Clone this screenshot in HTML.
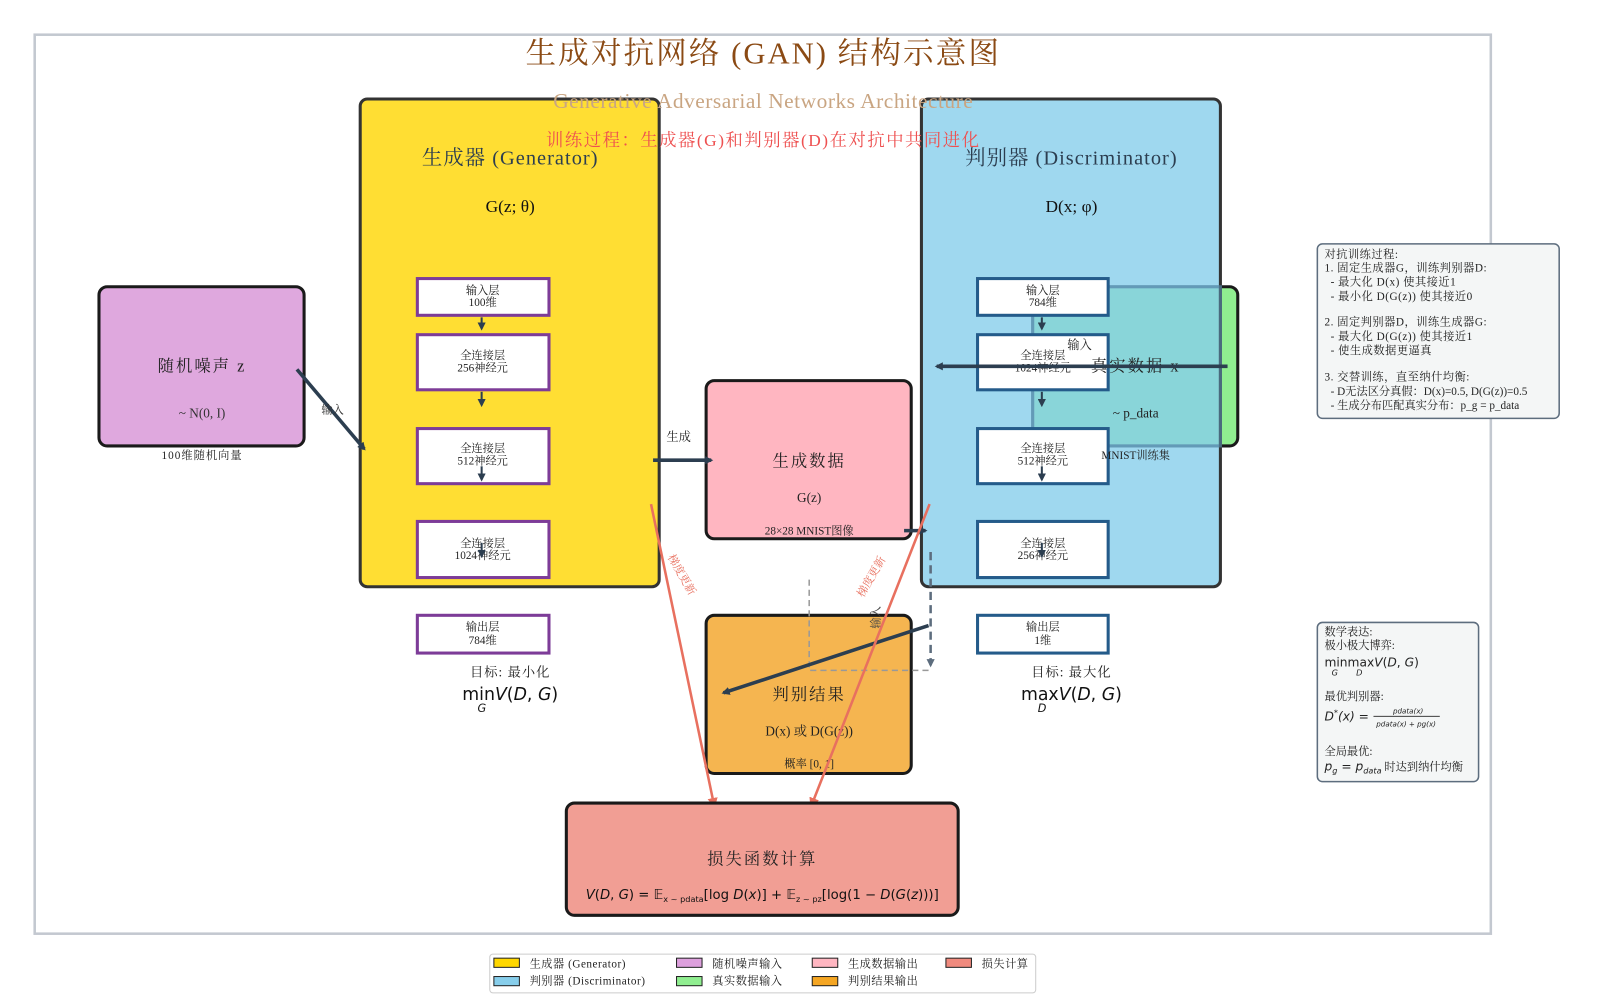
<!DOCTYPE html>
<html><head><meta charset="utf-8"><style>
body{margin:0;background:#fff;}
svg text{font-family:"Liberation Serif","Noto Serif CJK SC",serif;}
</style></head><body>
<svg width="1600" height="1000" viewBox="0 0 1568 980" xmlns="http://www.w3.org/2000/svg">
<defs>
<marker id="ad" markerWidth="8" markerHeight="8" refX="6" refY="4" orient="auto" markerUnits="userSpaceOnUse"><path d="M0,0 L8,4 L0,8 z" fill="#2c3e50"/></marker>
<marker id="ar" markerWidth="10" markerHeight="10" refX="8" refY="5" orient="auto" markerUnits="userSpaceOnUse"><path d="M0,0 L10,5 L0,10 z" fill="#e8705f"/></marker>
<marker id="ag" markerWidth="8" markerHeight="8" refX="6" refY="4" orient="auto" markerUnits="userSpaceOnUse"><path d="M0,0 L8,4 L0,8 z" fill="#5d6d7e"/></marker>
</defs>
<rect x="34" y="34" width="1427" height="881" fill="none" stroke="#c3c8d0" stroke-width="2.5"/>
<text x="748" y="62" text-anchor="middle" font-size="30" fill="#8b4a14" letter-spacing="2">生成对抗网络 (GAN) 结构示意图</text>

<!-- noise -->
<rect x="97" y="281" width="201" height="156" rx="8" fill="#dfa8de" stroke="#1a1a1a" stroke-width="3"/>
<text x="198" y="364" text-anchor="middle" font-size="16" fill="#222" letter-spacing="2">随机噪声 z</text>
<text x="198" y="409" text-anchor="middle" font-size="13" fill="#333">~ N(0, I)</text>
<text x="198" y="450" text-anchor="middle" font-size="11" fill="#222" letter-spacing="1">100维随机向量</text>

<!-- generator -->
<rect x="353" y="97" width="293" height="478" rx="7" fill="#ffde33" stroke="#333" stroke-width="3"/>
<text x="500" y="161" text-anchor="middle" font-size="20" fill="#2c3e50" letter-spacing="1">生成器 (Generator)</text>
<text x="500" y="208" text-anchor="middle" font-size="17" fill="#111">G(z; θ)</text>
<g fill="#fff" stroke="#7d3c98" stroke-width="3">
<rect x="409" y="273" width="129" height="36"/><rect x="409" y="328" width="129" height="54"/>
<rect x="409" y="420" width="129" height="54"/><rect x="409" y="511" width="129" height="55"/>
<rect x="409" y="603" width="129" height="37"/></g>
<g font-size="11" text-anchor="middle" fill="#222">
<text x="473" y="288">输入层</text><text x="473" y="300">100维</text>
<text x="473" y="352">全连接层</text><text x="473" y="364">256神经元</text>
<text x="473" y="443">全连接层</text><text x="473" y="455">512神经元</text>
<text x="473" y="536">全连接层</text><text x="473" y="548">1024神经元</text>
<text x="473" y="618">输出层</text><text x="473" y="631">784维</text>
</g>
<g stroke="#2c3e50" stroke-width="2" marker-end="url(#ad)">
<line x1="472" y1="311" x2="472" y2="322"/><line x1="472" y1="384" x2="472" y2="397"/>
<line x1="472" y1="457" x2="472" y2="470"/><line x1="472" y1="532" x2="472" y2="545"/>
</g>

<!-- green real data + discriminator -->
<rect x="1012" y="281" width="201" height="156" rx="8" fill="#90ee90" stroke="#1a1a1a" stroke-width="3"/>
<rect x="903" y="97" width="293" height="478" rx="7" fill="#87ceeb" fill-opacity="0.8" stroke="#333" stroke-width="3"/>
<rect x="1012" y="281" width="184" height="156" fill="none" stroke="#5a90b0" stroke-width="3" stroke-opacity="0.6"/>
<text x="1050" y="161" text-anchor="middle" font-size="20" fill="#2c3e50" letter-spacing="1">判别器 (Discriminator)</text>
<text x="1050" y="208" text-anchor="middle" font-size="17" fill="#111">D(x; φ)</text>
<g fill="#fff" stroke="#245b8a" stroke-width="3">
<rect x="958" y="273" width="128" height="36"/><rect x="958" y="328" width="128" height="54"/>
<rect x="958" y="420" width="128" height="54"/><rect x="958" y="511" width="128" height="55"/>
<rect x="958" y="603" width="128" height="37"/></g>
<g font-size="11" text-anchor="middle" fill="#222">
<text x="1022" y="288">输入层</text><text x="1022" y="300">784维</text>
<text x="1022" y="352">全连接层</text><text x="1022" y="364">1024神经元</text>
<text x="1022" y="443">全连接层</text><text x="1022" y="455">512神经元</text>
<text x="1022" y="536">全连接层</text><text x="1022" y="548">256神经元</text>
<text x="1022" y="618">输出层</text><text x="1022" y="631">1维</text>
</g>
<g stroke="#2c3e50" stroke-width="2" marker-end="url(#ad)">
<line x1="1021" y1="311" x2="1021" y2="322"/><line x1="1021" y1="384" x2="1021" y2="397"/>
<line x1="1021" y1="457" x2="1021" y2="470"/><line x1="1021" y1="532" x2="1021" y2="545"/>
</g>
<text x="1113" y="364" text-anchor="middle" font-size="16" fill="#222" letter-spacing="2">真实数据 x</text>
<text x="1113" y="409" text-anchor="middle" font-size="13" fill="#222">~ p_data</text>
<text x="1113" y="450" text-anchor="middle" font-size="11" fill="#222">MNIST训练集</text>
<line x1="1203" y1="359" x2="918" y2="359" stroke="#2c3e50" stroke-width="3.5" marker-end="url(#ad)"/>
<text x="1058" y="342" text-anchor="middle" font-size="12" fill="#222">输入</text>

<!-- gen data -->
<rect x="692" y="373" width="201" height="155" rx="8" fill="#ffb6c1" stroke="#1a1a1a" stroke-width="3"/>
<text x="793" y="457" text-anchor="middle" font-size="16" fill="#222" letter-spacing="2">生成数据</text>
<text x="793" y="492" text-anchor="middle" font-size="13" fill="#222">G(z)</text>
<text x="793" y="524" text-anchor="middle" font-size="11" fill="#222">28×28 MNIST图像</text>
<line x1="640" y1="451" x2="697" y2="451" stroke="#2c3e50" stroke-width="3.5" marker-end="url(#ad)"/>
<text x="665" y="432" text-anchor="middle" font-size="12" fill="#222">生成</text>
<line x1="886" y1="520" x2="907" y2="520" stroke="#2c3e50" stroke-width="3.5" marker-end="url(#ad)"/>

<!-- result -->
<rect x="692" y="603" width="201" height="155" rx="8" fill="#f5b550" stroke="#1a1a1a" stroke-width="3"/>
<text x="793" y="686" text-anchor="middle" font-size="16" fill="#222" letter-spacing="2">判别结果</text>
<text x="793" y="721" text-anchor="middle" font-size="13" fill="#222">D(x) 或 D(G(z))</text>
<text x="793" y="752" text-anchor="middle" font-size="11" fill="#222">概率 [0, 1]</text>
<polyline points="793,568 793,657 912,657" fill="none" stroke="#999" stroke-width="1.5" stroke-dasharray="6,4"/>
<line x1="912" y1="541" x2="912" y2="652" stroke="#5d6d7e" stroke-width="2.5" stroke-dasharray="8,5" marker-end="url(#ag)"/>
<line x1="910" y1="613" x2="709" y2="679" stroke="#2c3e50" stroke-width="3.5" marker-end="url(#ad)"/>
<text font-size="11" fill="#444" transform="translate(862,605) rotate(-90)" text-anchor="middle">输入</text>

<!-- red gradient lines -->
<line x1="638" y1="494" x2="700" y2="790" stroke="#e8705f" stroke-width="2.5" marker-end="url(#ar)"/>
<line x1="911" y1="494" x2="795" y2="790" stroke="#e8705f" stroke-width="2.5" marker-end="url(#ar)"/>
<text transform="translate(665,565) rotate(60)" font-size="11" fill="#e8705f" text-anchor="middle">梯度更新</text>
<text transform="translate(857,567) rotate(-60)" font-size="11" fill="#e8705f" text-anchor="middle">梯度更新</text>

<!-- loss -->
<rect x="555" y="787" width="384" height="110" rx="8" fill="#f19e94" stroke="#1a1a1a" stroke-width="3"/>
<text x="747" y="847" text-anchor="middle" font-size="16" fill="#222" letter-spacing="2">损失函数计算</text>
<text x="747" y="881" text-anchor="middle" font-size="13" fill="#111" style="font-family:'DejaVu Sans',sans-serif"><tspan font-style="italic">V</tspan>(<tspan font-style="italic">D</tspan>, <tspan font-style="italic">G</tspan>) = 𝔼<tspan font-size="8" dy="3">x ~ pdata</tspan><tspan dy="-3">[log </tspan><tspan font-style="italic">D</tspan>(<tspan font-style="italic">x</tspan>)] + 𝔼<tspan font-size="8" dy="3">z ~ pz</tspan><tspan dy="-3">[log(1 − </tspan><tspan font-style="italic">D</tspan>(<tspan font-style="italic">G</tspan>(<tspan font-style="italic">z</tspan>)))]</text>

<!-- objectives -->
<text x="500" y="663" text-anchor="middle" font-size="13" fill="#222" letter-spacing="1">目标: 最小化</text>
<text x="500" y="686" text-anchor="middle" font-size="17" fill="#111" style="font-family:'DejaVu Sans',sans-serif">min<tspan font-style="italic">V</tspan>(<tspan font-style="italic">D</tspan>, <tspan font-style="italic">G</tspan>)</text>
<text x="468" y="698" font-size="11" font-style="italic" fill="#111" style="font-family:'DejaVu Sans',sans-serif">G</text>
<text x="1050" y="663" text-anchor="middle" font-size="13" fill="#222" letter-spacing="1">目标: 最大化</text>
<text x="1050" y="686" text-anchor="middle" font-size="17" fill="#111" style="font-family:'DejaVu Sans',sans-serif">max<tspan font-style="italic">V</tspan>(<tspan font-style="italic">D</tspan>, <tspan font-style="italic">G</tspan>)</text>
<text x="1017" y="698" font-size="11" font-style="italic" fill="#111" style="font-family:'DejaVu Sans',sans-serif">D</text>

<!-- overlay titles -->
<text x="748" y="106" text-anchor="middle" font-size="21" fill="#c9a582" letter-spacing="0.5">Generative Adversarial Networks Architecture</text>
<text x="748" y="143" text-anchor="middle" font-size="17" fill="#ee5050" letter-spacing="1.5">训练过程：生成器(G)和判别器(D)在对抗中共同进化</text>

<!-- info box -->
<rect x="1291" y="239" width="237" height="171" rx="5" fill="#f4f6f6" stroke="#5d6d7e" stroke-width="1.5"/>
<g font-size="11" fill="#222" letter-spacing="0.5">
<text x="1298" y="253">对抗训练过程:</text>
<text x="1298" y="266">1. 固定生成器G，训练判别器D:</text>
<text x="1304" y="280">- 最大化 D(x) 使其接近1</text>
<text x="1304" y="294">- 最小化 D(G(z)) 使其接近0</text>
<text x="1298" y="319">2. 固定判别器D，训练生成器G:</text>
<text x="1304" y="333">- 最大化 D(G(z)) 使其接近1</text>
<text x="1304" y="347">- 使生成数据更逼真</text>
<text x="1298" y="373">3. 交替训练，直至纳什均衡:</text>
<text x="1304" y="387" letter-spacing="0">- D无法区分真假：D(x)=0.5, D(G(z))=0.5</text>
<text x="1304" y="401" letter-spacing="0">- 生成分布匹配真实分布：p_g = p_data</text>
</g>
<!-- math box -->
<rect x="1291" y="610" width="158" height="156" rx="5" fill="#f4f6f6" stroke="#5d6d7e" stroke-width="1.5"/>
<g font-size="11" fill="#222">
<text x="1298" y="623">数学表达:</text>
<text x="1298" y="636">极小极大博弈:</text>
<text x="1298" y="653" font-size="12" style="font-family:'DejaVu Sans',sans-serif">minmax<tspan font-style="italic">V</tspan>(<tspan font-style="italic">D</tspan>, <tspan font-style="italic">G</tspan>)</text>
<text x="1305" y="662" font-size="8" font-style="italic" style="font-family:'DejaVu Sans',sans-serif">G</text>
<text x="1329" y="662" font-size="8" font-style="italic" style="font-family:'DejaVu Sans',sans-serif">D</text>
<text x="1298" y="686">最优判别器:</text>
<text x="1298" y="706" font-size="12" font-style="italic" style="font-family:'DejaVu Sans',sans-serif">D<tspan font-size="8" dy="-5">*</tspan><tspan dy="5">(x) =</tspan></text>
<text x="1380" y="699" font-size="7" font-style="italic" text-anchor="middle" style="font-family:'DejaVu Sans',sans-serif">pdata(x)</text>
<line x1="1346" y1="702" x2="1411" y2="702" stroke="#222" stroke-width="0.8"/>
<text x="1378" y="712" font-size="7" font-style="italic" text-anchor="middle" style="font-family:'DejaVu Sans',sans-serif">pdata(x) + pg(x)</text>
<text x="1298" y="740">全局最优:</text>
<text x="1298" y="755" font-size="12"><tspan font-style="italic" style="font-family:'DejaVu Sans',sans-serif">p<tspan font-size="8" dy="3">g</tspan><tspan dy="-3"> = p</tspan><tspan font-size="8" dy="3">data</tspan></tspan><tspan dy="-3" font-size="11"> 时达到纳什均衡</tspan></text>
</g>

<!-- legend -->
<rect x="480" y="935" width="535" height="38" rx="3" fill="#fff" stroke="#ccc"/>
<g stroke="#222" stroke-width="1">
<rect x="484" y="939" width="25" height="9" fill="#ffd700"/><rect x="484" y="957" width="25" height="9" fill="#87ceeb"/>
<rect x="663" y="939" width="25" height="9" fill="#dda0dd"/><rect x="663" y="957" width="25" height="9" fill="#90ee90"/>
<rect x="796" y="939" width="25" height="9" fill="#ffb6c1"/><rect x="796" y="957" width="25" height="9" fill="#f5a623"/>
<rect x="927" y="939" width="25" height="9" fill="#f08a7e"/>
</g>
<g font-size="11" fill="#222" letter-spacing="0.5">
<text x="519" y="948">生成器 (Generator)</text><text x="519" y="965">判别器 (Discriminator)</text>
<text x="698" y="948">随机噪声输入</text><text x="698" y="965">真实数据输入</text>
<text x="831" y="948">生成数据输出</text><text x="831" y="965">判别结果输出</text>
<text x="962" y="948">损失计算</text>
</g>

<!-- noise input arrow -->
<line x1="291" y1="362" x2="357" y2="440" stroke="#2c3e50" stroke-width="3.5" marker-end="url(#ad)"/>
<text x="326" y="405" text-anchor="middle" font-size="11" fill="#333">输入</text>
</svg>
</body></html>
